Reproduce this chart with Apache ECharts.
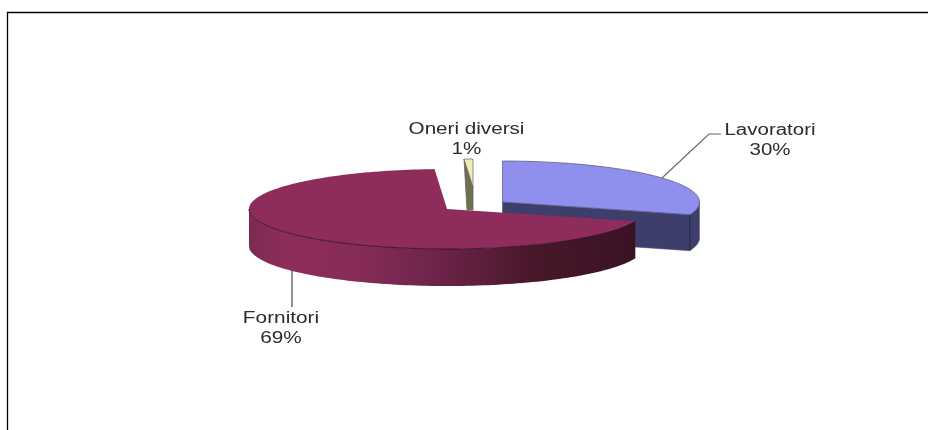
<!DOCTYPE html>
<html>
<head>
<meta charset="utf-8">
<style>html,body{margin:0;padding:0;background:#fff}#c{width:928px;height:430px}</style>
<script src="https://cdn.jsdelivr.net/npm/echarts@6/dist/echarts.min.js"></script>
</head>
<body>
<div id="c"></div>
<script>
// Data, clockwise from 12 o'clock
var categories = ['Lavoratori', 'Fornitori', 'Oneri diversi'];
var values = [30, 69, 1];

// Presentation of each slice, same order as categories
var geometry = [
  {cx: 502.5, cy: 202, rx: 197, ry: 41, depth: 36, z: 2},
  {cx: 447, cy: 209, rx: 198, ry: 40, depth: 37, z: 3},
  {cx: 473, cy: 187, rx: 143, ry: 28, depth: 23, z: 1}
];
var topColors = ['#8f8fee', '#8e2d5c', '#f0edb8'];
var wallColors = ['#3e3e6c', null, '#6f6f52'];
var edgeColors = ['#55557a', null, '#666658'];
var labels = [
  {x: 770, y: 130, sx: 1.28, line: [[662, 178], [709, 134], [721, 134]], lineColor: '#666'},
  {x: 281, y: 318, sx: 1.3, line: [[292, 270], [292, 307]], lineColor: '#333'},
  {x: 466.5, y: 129, sx: 1.29, line: null}
];
var total = values.reduce(function (a, b) { return a + b; }, 0);

function pt(g, deg, dy) {
  var a = deg * Math.PI / 180;
  return [g.cx + g.rx * Math.sin(a), g.cy - g.ry * Math.cos(a) + (dy || 0)];
}
function arc(g, from, to, dy) {
  var out = [], n = Math.max(2, Math.ceil(Math.abs(to - from) / 1.5));
  for (var i = 0; i <= n; i++) out.push(pt(g, from + (to - from) * i / n, dy));
  return out;
}

function renderItem(params, api) {
  var i = params.dataIndex, g = geometry[i];
  var start = 0;
  for (var k = 0; k < i; k++) start += values[k];
  var from = start / total * 360;
  var to = (start + api.value(0)) / total * 360;
  var kids = [];
  var apex = [g.cx, g.cy];

  // Side walls
  if (i === 0) {
    var wall = [apex].concat(arc(g, to, 90))
      .concat(arc(g, 90, to, g.depth)).concat([[g.cx, g.cy + g.depth]]);
    kids.push({type: 'polygon', z2: g.z, shape: {points: wall},
      style: {fill: wallColors[0], stroke: edgeColors[0], lineWidth: 0.6}});
    var c = pt(g, to);
    kids.push({type: 'line', z2: g.z + 0.5, shape: {x1: c[0], y1: c[1], x2: c[0], y2: c[1] + g.depth},
      style: {stroke: '#23233f', lineWidth: 0.9}});
  } else if (i === 1) {
    var outer = arc(g, from, 270).concat(arc(g, 270, from, g.depth));
    kids.push({type: 'polygon', z2: g.z, shape: {points: outer}, style: {
      fill: new echarts.graphic.LinearGradient(0, 0, 1, 0, [
        {offset: 0, color: '#7c2a53'}, {offset: 0.1, color: '#8e2d5c'},
        {offset: 0.3, color: '#852b58'}, {offset: 0.5, color: '#6b2349'},
        {offset: 0.75, color: '#471729'}, {offset: 1, color: '#3a1224'}
      ])}});
  } else {
    var e = pt(g, from);
    var face = [e, apex, [g.cx, g.cy + g.depth], [e[0] + 3, g.cy + g.depth]];
    kids.push({type: 'polygon', z2: g.z, shape: {points: face},
      style: {fill: wallColors[2], stroke: edgeColors[2], lineWidth: 0.8}});
  }

  // Top surface
  var top = [apex].concat(arc(g, from, to));
  var topStyle = {fill: topColors[i]};
  if (edgeColors[i]) { topStyle.stroke = edgeColors[i]; topStyle.lineWidth = 0.7; }
  kids.push({type: 'polygon', z2: g.z + 0.2, shape: {points: top}, style: topStyle});
  if (i === 1) {
    // The dark rim where the front of the top surface meets the wall
    kids.push({type: 'polyline', z2: g.z + 0.3, shape: {points: arc(g, from, 270)},
      style: {fill: 'none', stroke: '#34102a', lineWidth: 0.9}});
  }

  // Leader line and label
  var L = labels[i];
  if (L.line) {
    kids.push({type: 'polyline', z2: 9, shape: {points: L.line},
      style: {fill: 'none', stroke: L.lineColor, lineWidth: 1.1}});
  }
  kids.push({type: 'text', z2: 10, x: L.x, y: L.y - 9, scaleX: L.sx, style: {
    text: categories[i] + '\n' + api.value(0) + '%',
    x: 0, y: 0, align: 'center', verticalAlign: 'top', lineHeight: 19.5,
    font: '16px "Liberation Sans"', fill: '#2b2b2b'}});
  return {type: 'group', children: kids};
}

var chart = echarts.init(document.getElementById('c'), null, {renderer: 'canvas'});
chart.setOption({
  animation: false,
  backgroundColor: '#fff',
  graphic: [
    {type: 'polyline', shape: {points: [[7.5, 430], [7.5, 12.5], [928, 12.5]]},
      style: {fill: 'none', stroke: '#000', lineWidth: 1.3}}
  ],
  series: [{
    type: 'custom',
    coordinateSystem: 'none',
    silent: true,
    clip: false,
    renderItem: renderItem,
    data: values.map(function (v) { return [v]; })
  }]
});
</script>
</body>
</html>
